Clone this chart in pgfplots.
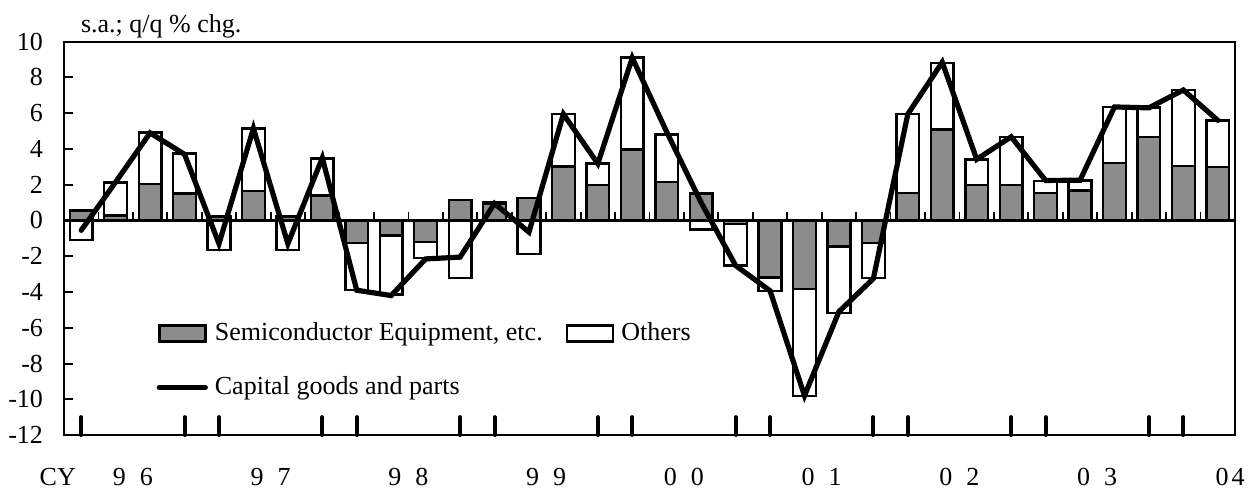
\documentclass[border=0pt]{standalone}
\usepackage{pgfplots}
\usepackage{pgfplotstable}
\pgfplotsset{compat=1.18}
\usepackage{fontspec}
\setmainfont{Liberation Serif}
\definecolor{semigray}{RGB}{140,140,140}
\tikzset{yearlab/.style={anchor=base, inner sep=0pt, yshift=-25pt}}

\pgfplotstableread{
x semi white line
1 0.55 -1.10 -0.55
2 0.28 2.13 2.15
3 2.05 4.92 4.90
4 1.50 3.74 3.70
5 0.22 -1.64 -1.30
6 1.64 5.14 5.15
7 0.22 -1.64 -1.30
8 1.40 3.46 3.50
9 -1.27 -3.89 -3.90
10 -0.84 -4.15 -4.20
11 -1.21 -2.09 -2.15
12 1.16 -3.21 -2.05
13 0.93 1.00 0.95
14 1.25 -1.87 -0.65
15 3.03 5.94 5.95
16 2.00 3.18 3.18
17 3.96 9.12 9.10
18 2.15 4.82 4.95
19 1.50 -0.50 1.00
20 -0.20 -2.52 -2.52
21 -3.18 -3.93 -3.93
22 -3.83 -9.81 -9.80
23 -1.46 -5.18 -5.10
24 -1.25 -3.21 -3.25
25 1.53 5.94 5.95
26 5.10 8.82 8.85
27 2.00 3.40 3.42
28 2.00 4.67 4.68
29 1.55 2.22 2.24
30 1.68 2.24 2.25
31 3.21 6.36 6.35
32 4.67 6.32 6.30
33 3.05 7.29 7.30
34 3.00 5.60 5.60
}\data

\begin{document}
\fontsize{13}{15}\selectfont
\begin{tikzpicture}
\begin{axis}[
  scale only axis, width=585.5pt, height=196.65pt,
  xmin=0.5, xmax=34.5, ymin=-12, ymax=10,
  ytick={-12,-10,...,10},
  xtick=\empty,
  ytick pos=left,
  tick align=inside,
  major tick length=4.5pt,
  ytick style={line width=1pt, black},
  axis line style={line width=1.1pt},
  yticklabel style={xshift=-6pt},
  /pgf/number format/assume math mode=true,
  clip=false,
  legend columns=2,
  legend cell align=left,
  legend style={at={(axis cs:3.18,-7.84)}, anchor=west, draw=none, fill=none,
    inner sep=0pt, row sep=9pt,
    /tikz/every even column/.append style={column sep=8pt},
    nodes={inner sep=3.5pt}},
]
\addlegendimage{legend image code/.code={\draw[black,line width=1.3pt,fill=semigray] (0pt,-4pt) rectangle (23pt,4pt);}}
\addlegendentry{Semiconductor Equipment, etc.}
\addlegendimage{legend image code/.code={\draw[black,line width=1.3pt,fill=white] (0pt,-4pt) rectangle (23pt,4pt);}}
\addlegendentry{Others}
\addlegendimage{legend image code/.code={\draw[black,line width=2.6pt,line cap=round] (0pt,0pt) -- (23pt,0pt);}}
\addlegendentry{Capital goods and parts}

\addplot[ybar, bar width=0.66, bar shift=0pt, fill=white, draw=black, line width=1.2pt, forget plot] table[x=x,y=white]{\data};
\addplot[ybar, bar width=0.66, bar shift=0pt, fill=semigray, draw=black, line width=1.2pt, forget plot] table[x=x,y=semi]{\data};

\draw[line width=1.4pt] (axis cs:0.5,0) -- (axis cs:34.5,0);
\pgfplotsinvokeforeach{1.5,2.5,...,33.5}{\draw[line width=0.9pt] (axis cs:#1,0) -- (axis cs:#1,0.47);}
\pgfplotsinvokeforeach{1,4,5,8,9,12,13,16,17,20,21,24,25,28,29,32,33}{\draw[line width=2pt,line cap=round] (axis cs:#1,-12) -- (axis cs:#1,-11);}

\addplot[black, line width=2.6pt, mark=none, line cap=round, forget plot] table[x=x,y=line]{\data};

\node[anchor=base west] at (rel axis cs:0,1) [xshift=4pt, yshift=4.7pt] {s.a.; q/q \% chg.};
\node[yearlab] at (axis cs:0.32,-12) {CY};
\node[yearlab] at (axis cs:2.5,-12) {9\hspace{7pt}6};
\node[yearlab] at (axis cs:6.5,-12) {9\hspace{7pt}7};
\node[yearlab] at (axis cs:10.5,-12) {9\hspace{7pt}8};
\node[yearlab] at (axis cs:14.5,-12) {9\hspace{7pt}9};
\node[yearlab] at (axis cs:18.5,-12) {0\hspace{7pt}0};
\node[yearlab] at (axis cs:22.5,-12) {0\hspace{7pt}1};
\node[yearlab] at (axis cs:26.5,-12) {0\hspace{7pt}2};
\node[yearlab] at (axis cs:30.5,-12) {0\hspace{7pt}3};
\node[yearlab] at (axis cs:34.36,-12) {0\hspace{1.5pt}4};
\coordinate (SW) at (rel axis cs:0,0);
\coordinate (NE) at (rel axis cs:1,1);
\end{axis}
\pgfresetboundingbox
\path (SW) ++(-32pt,-27pt) coordinate (BL);
\path (NE) ++(7.5pt,20.85pt) coordinate (TR);
\path (BL) rectangle (TR);
\end{tikzpicture}
\end{document}
